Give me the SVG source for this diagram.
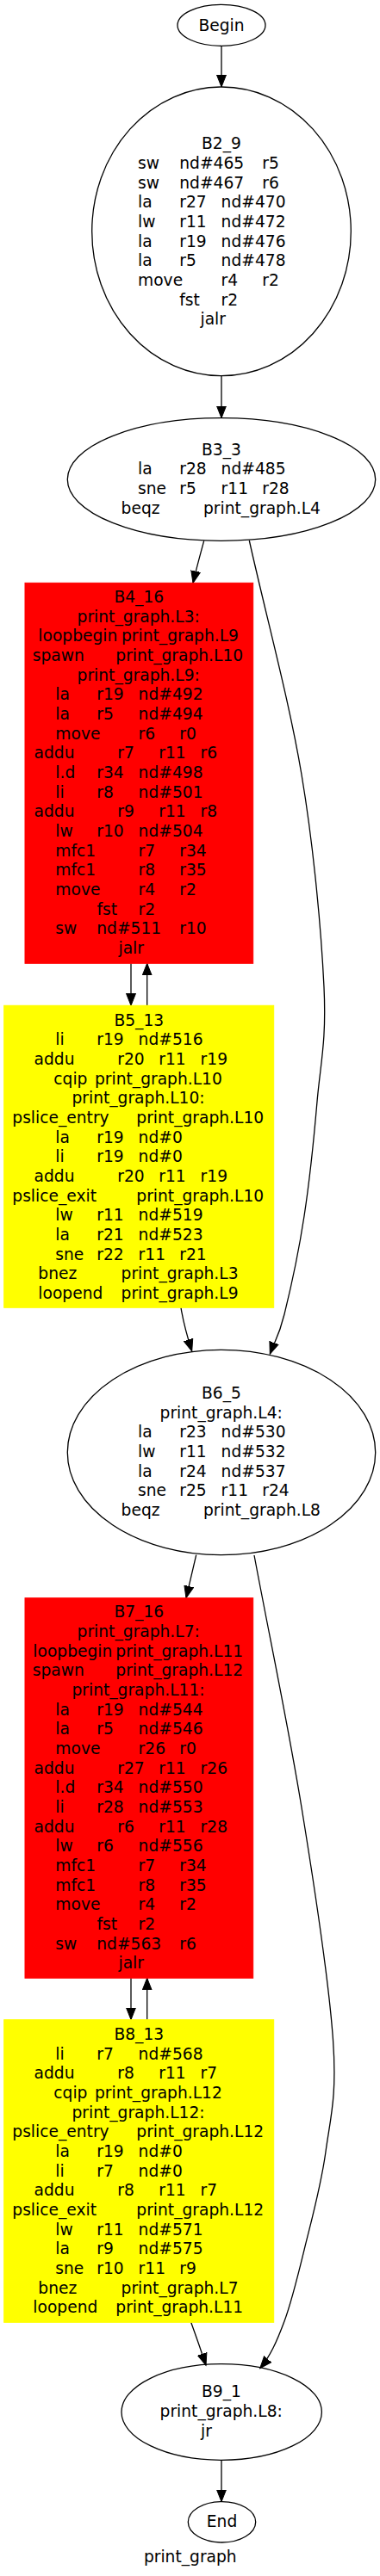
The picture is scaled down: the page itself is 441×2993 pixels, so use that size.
<svg xmlns="http://www.w3.org/2000/svg" width="441" height="2993" viewBox="0 0 441 2993">
<style>
.t{font-family:"DejaVu Sans","Liberation Sans",sans-serif;font-size:18.67px;fill:#000}
.m{text-anchor:middle}
.el{fill:none;stroke:#000;stroke-width:1.3}
.red{fill:#ff0000;stroke:#ff0000}
.yel{fill:#ffff00;stroke:#ffff00}
.e{fill:none;stroke:#000;stroke-width:1.3;marker-end:url(#ah)}
</style>
<defs>
<marker id="ah" markerUnits="userSpaceOnUse" markerWidth="16" markerHeight="13" refX="14" refY="6.5" orient="auto" viewBox="0 0 16 13"><path d="M0,1 L14,6.5 L0,12 z" fill="#000" stroke="#000" stroke-width="1"/></marker>
</defs>
<rect width="441" height="2993" fill="#fff"/>
<g id="connectors">
<path class="e" d="M257,53.3 L257,101"/>
<path class="e" d="M257,436.7 L257,485.7"/>
<path class="e" d="M236.7,628.3 C233,642 228,660 224,677.3"/>
<path class="e" d="M289.3,628 C309.5,718.7 335.55,813.5 350,900 C364.45,986.5 373,1083.7 376,1147 C379,1210.3 371.8,1235.7 368,1280 C364.2,1324.3 359.3,1371.8 353,1413 C346.7,1454.2 336.6,1500.3 330,1527 C323.4,1553.7 318.9,1557.9 313.3,1573.3"/>
<path class="e" d="M152,1119.3 L152,1168.3"/>
<path class="e" d="M170.7,1168.3 L170.7,1119.3"/>
<path class="e" d="M210,1519.3 C212.5,1535 217,1552 222.7,1570"/>
<path class="e" d="M227.7,1806.7 C224,1822 220,1840 216,1856.7"/>
<path class="e" d="M295,1807 C313.3,1904.7 334.75,2006.2 350,2100 C365.25,2193.8 381.83,2303.3 386.5,2370 C391.17,2436.7 383.53,2459.5 378,2500 C372.47,2540.5 361.3,2580.2 353.3,2613 C345.3,2645.8 338.6,2673.9 330,2697 C321.4,2720.1 313.7,2737.7 301.7,2751.7"/>
<path class="e" d="M152,2298.3 L152,2346.7"/>
<path class="e" d="M170.7,2346.7 L170.7,2298.3"/>
<path class="e" d="M221.7,2698.3 C227,2713 233,2730 239,2748.3"/>
<path class="e" d="M257,2858.3 L257,2906.7"/>
</g>
<g id="Begin">
<ellipse class="el" cx="257" cy="29.3" rx="51" ry="24"/>
<text class="t m" x="257" y="35.5">Begin</text>
</g>
<g id="B2_9">
<ellipse class="el" cx="257" cy="268.8" rx="150.3" ry="167.8"/>
<text class="t m" x="257" y="173.3">B2_9</text>
<text class="t" y="196"><tspan x="160">sw</tspan><tspan x="208.3">nd#465</tspan><tspan x="304.3">r5</tspan></text>
<text class="t" y="218.6"><tspan x="160">sw</tspan><tspan x="208.3">nd#467</tspan><tspan x="304.3">r6</tspan></text>
<text class="t" y="241.3"><tspan x="160">la</tspan><tspan x="208.3">r27</tspan><tspan x="256.6">nd#470</tspan></text>
<text class="t" y="264"><tspan x="160">lw</tspan><tspan x="208.3">r11</tspan><tspan x="256.6">nd#472</tspan></text>
<text class="t" y="286.6"><tspan x="160">la</tspan><tspan x="208.3">r19</tspan><tspan x="256.6">nd#476</tspan></text>
<text class="t" y="309.3"><tspan x="160">la</tspan><tspan x="208.3">r5</tspan><tspan x="256.6">nd#478</tspan></text>
<text class="t" y="332"><tspan x="160">move</tspan><tspan x="256.6">r4</tspan><tspan x="304.3">r2</tspan></text>
<text class="t" y="354.7"><tspan x="208.3">fst</tspan><tspan x="256.6">r2</tspan></text>
<text class="t" y="377.3"><tspan x="232.5">jalr</tspan></text>
</g>
<g id="B3_3">
<ellipse class="el" cx="257" cy="557" rx="178.7" ry="71.3"/>
<text class="t m" x="257" y="528.5">B3_3</text>
<text class="t" y="551.2"><tspan x="160">la</tspan><tspan x="208.3">r28</tspan><tspan x="256.6">nd#485</tspan></text>
<text class="t" y="573.8"><tspan x="160">sne</tspan><tspan x="208.3">r5</tspan><tspan x="256.6">r11</tspan><tspan x="304.3">r28</tspan></text>
<text class="t" y="596.5"><tspan x="140.6">beqz</tspan><tspan x="236">print_graph.L4</tspan></text>
</g>
<g id="B4_16">
<rect class="red" x="29" y="677.3" width="264.7" height="442"/>
<text class="t m" x="161.3" y="700">B4_16</text>
<text class="t m" x="160.7" y="722.7">print_graph.L3:</text>
<text class="t" y="745.3"><tspan x="44.3">loopbegin</tspan><tspan x="141">print_graph.L9</tspan></text>
<text class="t" y="768"><tspan x="37.8">spawn</tspan><tspan x="134.3">print_graph.L10</tspan></text>
<text class="t m" x="160.7" y="790.7">print_graph.L9:</text>
<text class="t" y="813.3"><tspan x="64.3">la</tspan><tspan x="112.3">r19</tspan><tspan x="160.6">nd#492</tspan></text>
<text class="t" y="836"><tspan x="64.3">la</tspan><tspan x="112.3">r5</tspan><tspan x="160.6">nd#494</tspan></text>
<text class="t" y="858.7"><tspan x="64.3">move</tspan><tspan x="160.6">r6</tspan><tspan x="208.3">r0</tspan></text>
<text class="t" y="881.4"><tspan x="39.6">addu</tspan><tspan x="136.3">r7</tspan><tspan x="184.3">r11</tspan><tspan x="232.6">r6</tspan></text>
<text class="t" y="904"><tspan x="64.3">l.d</tspan><tspan x="112.3">r34</tspan><tspan x="160.6">nd#498</tspan></text>
<text class="t" y="926.7"><tspan x="64.3">li</tspan><tspan x="112.3">r8</tspan><tspan x="160.6">nd#501</tspan></text>
<text class="t" y="949.4"><tspan x="39.6">addu</tspan><tspan x="136.3">r9</tspan><tspan x="184.3">r11</tspan><tspan x="232.6">r8</tspan></text>
<text class="t" y="972"><tspan x="64.3">lw</tspan><tspan x="112.3">r10</tspan><tspan x="160.6">nd#504</tspan></text>
<text class="t" y="994.7"><tspan x="64.3">mfc1</tspan><tspan x="160.6">r7</tspan><tspan x="208.3">r34</tspan></text>
<text class="t" y="1017.4"><tspan x="64.3">mfc1</tspan><tspan x="160.6">r8</tspan><tspan x="208.3">r35</tspan></text>
<text class="t" y="1040"><tspan x="64.3">move</tspan><tspan x="160.6">r4</tspan><tspan x="208.3">r2</tspan></text>
<text class="t" y="1062.7"><tspan x="112.5">fst</tspan><tspan x="160.6">r2</tspan></text>
<text class="t" y="1085.4"><tspan x="64.3">sw</tspan><tspan x="112.3">nd#511</tspan><tspan x="208.3">r10</tspan></text>
<text class="t" y="1108"><tspan x="137.5">jalr</tspan></text>
</g>
<g id="B5_13">
<rect class="yel" x="4.7" y="1168.3" width="313" height="351"/>
<text class="t m" x="161.3" y="1191.7">B5_13</text>
<text class="t" y="1214.4"><tspan x="64.3">li</tspan><tspan x="112.3">r19</tspan><tspan x="160.6">nd#516</tspan></text>
<text class="t" y="1237"><tspan x="39.6">addu</tspan><tspan x="136.3">r20</tspan><tspan x="184.3">r11</tspan><tspan x="232.6">r19</tspan></text>
<text class="t" y="1259.7"><tspan x="62.3">cqip</tspan><tspan x="110">print_graph.L10</tspan></text>
<text class="t m" x="160.5" y="1282.4">print_graph.L10:</text>
<text class="t" y="1305"><tspan x="14.3">pslice_entry</tspan><tspan x="158.3">print_graph.L10</tspan></text>
<text class="t" y="1327.7"><tspan x="64.3">la</tspan><tspan x="112.3">r19</tspan><tspan x="160.6">nd#0</tspan></text>
<text class="t" y="1350.4"><tspan x="64.3">li</tspan><tspan x="112.3">r19</tspan><tspan x="160.6">nd#0</tspan></text>
<text class="t" y="1373"><tspan x="39.6">addu</tspan><tspan x="136.3">r20</tspan><tspan x="184.3">r11</tspan><tspan x="232.6">r19</tspan></text>
<text class="t" y="1395.7"><tspan x="14.3">pslice_exit</tspan><tspan x="158.3">print_graph.L10</tspan></text>
<text class="t" y="1418.4"><tspan x="64.3">lw</tspan><tspan x="112.3">r11</tspan><tspan x="160.6">nd#519</tspan></text>
<text class="t" y="1441"><tspan x="64.3">la</tspan><tspan x="112.3">r21</tspan><tspan x="160.6">nd#523</tspan></text>
<text class="t" y="1463.7"><tspan x="64.3">sne</tspan><tspan x="112.3">r22</tspan><tspan x="160.6">r11</tspan><tspan x="208.3">r21</tspan></text>
<text class="t" y="1486.4"><tspan x="44.3">bnez</tspan><tspan x="140.6">print_graph.L3</tspan></text>
<text class="t" y="1509"><tspan x="44.3">loopend</tspan><tspan x="140.6">print_graph.L9</tspan></text>
</g>
<g id="B6_5">
<ellipse class="el" cx="257" cy="1687.5" rx="178.7" ry="119.2"/>
<text class="t m" x="257" y="1625">B6_5</text>
<text class="t" x="185.6" y="1647.7">print_graph.L4:</text>
<text class="t" y="1670.3"><tspan x="160">la</tspan><tspan x="208.3">r23</tspan><tspan x="256.6">nd#530</tspan></text>
<text class="t" y="1693"><tspan x="160">lw</tspan><tspan x="208.3">r11</tspan><tspan x="256.6">nd#532</tspan></text>
<text class="t" y="1715.7"><tspan x="160">la</tspan><tspan x="208.3">r24</tspan><tspan x="256.6">nd#537</tspan></text>
<text class="t" y="1738.3"><tspan x="160">sne</tspan><tspan x="208.3">r25</tspan><tspan x="256.6">r11</tspan><tspan x="304.3">r24</tspan></text>
<text class="t" y="1761"><tspan x="140.6">beqz</tspan><tspan x="236">print_graph.L8</tspan></text>
</g>
<g id="B7_16">
<rect class="red" x="29" y="1856.7" width="264.7" height="441.6"/>
<text class="t m" x="161.3" y="1879.3">B7_16</text>
<text class="t m" x="160.7" y="1902">print_graph.L7:</text>
<text class="t" y="1924.7"><tspan x="38.3">loopbegin</tspan><tspan x="134.3">print_graph.L11</tspan></text>
<text class="t" y="1947.3"><tspan x="37.8">spawn</tspan><tspan x="134.3">print_graph.L12</tspan></text>
<text class="t m" x="160.5" y="1970">print_graph.L11:</text>
<text class="t" y="1992.7"><tspan x="64.3">la</tspan><tspan x="112.3">r19</tspan><tspan x="160.6">nd#544</tspan></text>
<text class="t" y="2015.3"><tspan x="64.3">la</tspan><tspan x="112.3">r5</tspan><tspan x="160.6">nd#546</tspan></text>
<text class="t" y="2038"><tspan x="64.3">move</tspan><tspan x="160.6">r26</tspan><tspan x="208.3">r0</tspan></text>
<text class="t" y="2060.7"><tspan x="39.6">addu</tspan><tspan x="136.3">r27</tspan><tspan x="184.3">r11</tspan><tspan x="232.6">r26</tspan></text>
<text class="t" y="2083.3"><tspan x="64.3">l.d</tspan><tspan x="112.3">r34</tspan><tspan x="160.6">nd#550</tspan></text>
<text class="t" y="2106"><tspan x="64.3">li</tspan><tspan x="112.3">r28</tspan><tspan x="160.6">nd#553</tspan></text>
<text class="t" y="2128.7"><tspan x="39.6">addu</tspan><tspan x="136.3">r6</tspan><tspan x="184.3">r11</tspan><tspan x="232.6">r28</tspan></text>
<text class="t" y="2151.3"><tspan x="64.3">lw</tspan><tspan x="112.3">r6</tspan><tspan x="160.6">nd#556</tspan></text>
<text class="t" y="2174"><tspan x="64.3">mfc1</tspan><tspan x="160.6">r7</tspan><tspan x="208.3">r34</tspan></text>
<text class="t" y="2196.7"><tspan x="64.3">mfc1</tspan><tspan x="160.6">r8</tspan><tspan x="208.3">r35</tspan></text>
<text class="t" y="2219.3"><tspan x="64.3">move</tspan><tspan x="160.6">r4</tspan><tspan x="208.3">r2</tspan></text>
<text class="t" y="2242"><tspan x="112.5">fst</tspan><tspan x="160.6">r2</tspan></text>
<text class="t" y="2264.7"><tspan x="64.3">sw</tspan><tspan x="112.3">nd#563</tspan><tspan x="208.3">r6</tspan></text>
<text class="t" y="2287.3"><tspan x="137.5">jalr</tspan></text>
</g>
<g id="B8_13">
<rect class="yel" x="4.7" y="2346.7" width="313" height="351.6"/>
<text class="t m" x="161.3" y="2370">B8_13</text>
<text class="t" y="2392.7"><tspan x="64.3">li</tspan><tspan x="112.3">r7</tspan><tspan x="160.6">nd#568</tspan></text>
<text class="t" y="2415.3"><tspan x="39.6">addu</tspan><tspan x="136.3">r8</tspan><tspan x="184.3">r11</tspan><tspan x="232.6">r7</tspan></text>
<text class="t" y="2438"><tspan x="62.3">cqip</tspan><tspan x="110">print_graph.L12</tspan></text>
<text class="t m" x="160.5" y="2460.7">print_graph.L12:</text>
<text class="t" y="2483.3"><tspan x="14.3">pslice_entry</tspan><tspan x="158.3">print_graph.L12</tspan></text>
<text class="t" y="2506"><tspan x="64.3">la</tspan><tspan x="112.3">r19</tspan><tspan x="160.6">nd#0</tspan></text>
<text class="t" y="2528.7"><tspan x="64.3">li</tspan><tspan x="112.3">r7</tspan><tspan x="160.6">nd#0</tspan></text>
<text class="t" y="2551.3"><tspan x="39.6">addu</tspan><tspan x="136.3">r8</tspan><tspan x="184.3">r11</tspan><tspan x="232.6">r7</tspan></text>
<text class="t" y="2574"><tspan x="14.3">pslice_exit</tspan><tspan x="158.3">print_graph.L12</tspan></text>
<text class="t" y="2596.7"><tspan x="64.3">lw</tspan><tspan x="112.3">r11</tspan><tspan x="160.6">nd#571</tspan></text>
<text class="t" y="2619.3"><tspan x="64.3">la</tspan><tspan x="112.3">r9</tspan><tspan x="160.6">nd#575</tspan></text>
<text class="t" y="2642"><tspan x="64.3">sne</tspan><tspan x="112.3">r10</tspan><tspan x="160.6">r11</tspan><tspan x="208.3">r9</tspan></text>
<text class="t" y="2664.7"><tspan x="44.3">bnez</tspan><tspan x="140.6">print_graph.L7</tspan></text>
<text class="t" y="2687.3"><tspan x="38.3">loopend</tspan><tspan x="134.3">print_graph.L11</tspan></text>
</g>
<g id="B9_1">
<ellipse class="el" cx="257.2" cy="2802.5" rx="116.2" ry="55.8"/>
<text class="t m" x="257" y="2785">B9_1</text>
<text class="t" x="185.6" y="2808">print_graph.L8:</text>
<text class="t" x="233" y="2830.7">jr</text>
</g>
<g id="End">
<ellipse class="el" cx="257.5" cy="2930.3" rx="39.2" ry="23.7"/>
<text class="t m" x="257.5" y="2936">End</text>
</g>
<g id="graph-label">
<text class="t m" x="220.8" y="2976.7">print_graph</text>
</g>
</svg>
